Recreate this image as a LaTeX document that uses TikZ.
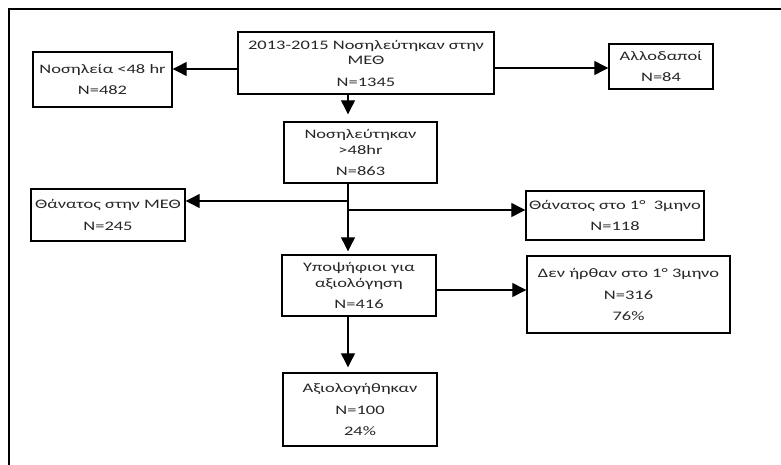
\documentclass[tikz,border=0pt]{standalone}
\usepackage{fontspec}
\setmainfont{Carlito}[FakeStretch=1.42]
\usetikzlibrary{arrows.meta}
\begin{document}
\begin{tikzpicture}[x=1pt,y=-1pt,
 box/.style={draw, line width=1.4pt, inner sep=0pt, align=center, font=\fontsize{13}{15.5}\selectfont, text=black!85},
 arr/.style={line width=1.2pt, -{Triangle[length=14pt,width=14pt]}}]
\useasboundingbox (0,0) rectangle (781,465);
\draw[line width=1.6pt] (9,465) -- (9,9) -- (781,9);

\node[box, minimum width=256pt, minimum height=62pt] (top) at (366,63) {2013-2015 Νοσηλεύτηκαν στην\\ΜΕΘ\\[6pt]N=1345};
\node[box, minimum width=139pt, minimum height=55pt] (nos) at (102.5,79.5) {Νοσηλεία <48 hr\\[6pt]N=482};
\node[box, minimum width=104pt, minimum height=45pt] (allo) at (661,66.5) {Αλλοδαποί\\[6pt]N=84};
\node[box, minimum width=153pt, minimum height=61pt] (mid) at (360.5,152.5) {Νοσηλεύτηκαν\\>48hr\\[6pt]N=863};
\node[box, minimum width=154pt, minimum height=52pt] (deathA) at (108,215) {Θάνατος στην ΜΕΘ\\[6pt]N=245};
\node[box, minimum width=178pt, minimum height=49pt] (deathB) at (615,215.5) {Θάνατος στο 1°\ \ 3μηνο\\[6pt]N=118};
\node[box, minimum width=154pt, minimum height=61pt] (cand) at (359,285.5) {Υποψήφιοι για\\αξιολόγηση\\[6pt]N=416};
\node[box, minimum width=203pt, minimum height=77pt] (noshow) at (628.5,294.5) {Δεν ήρθαν στο 1° 3μηνο\\[6pt]N=316\\[6pt]76\%};
\node[box, minimum width=154pt, minimum height=73pt] (eval) at (360,409.5) {Αξιολογήθηκαν\\[6pt]N=100\\[6pt]24\%};

\coordinate (sp) at (348,0);
\coordinate (yA) at (0,69);
\coordinate (yB) at (0,68);
\coordinate (yC) at (0,201);
\coordinate (yD) at (0,210);
\coordinate (yE) at (0,290);

\draw[arr] (top.west |- yA) -- (nos.east |- yA);
\draw[arr] (top.east |- yB) -- (allo.west |- yB);
\draw[arr, shorten >=7pt] (sp |- top.south) -- (sp |- mid.north);
\draw[arr, shorten >=3pt] (sp |- mid.south) -- (sp |- cand.north);
\draw[arr] (sp |- yC) -- (deathA.east |- yC);
\draw[arr] (sp |- yD) -- (deathB.west |- yD);
\draw[arr] (cand.east |- yE) -- (noshow.west |- yE);
\draw[arr, shorten >=5pt] (sp |- cand.south) -- (sp |- eval.north);
\end{tikzpicture}
\end{document}
